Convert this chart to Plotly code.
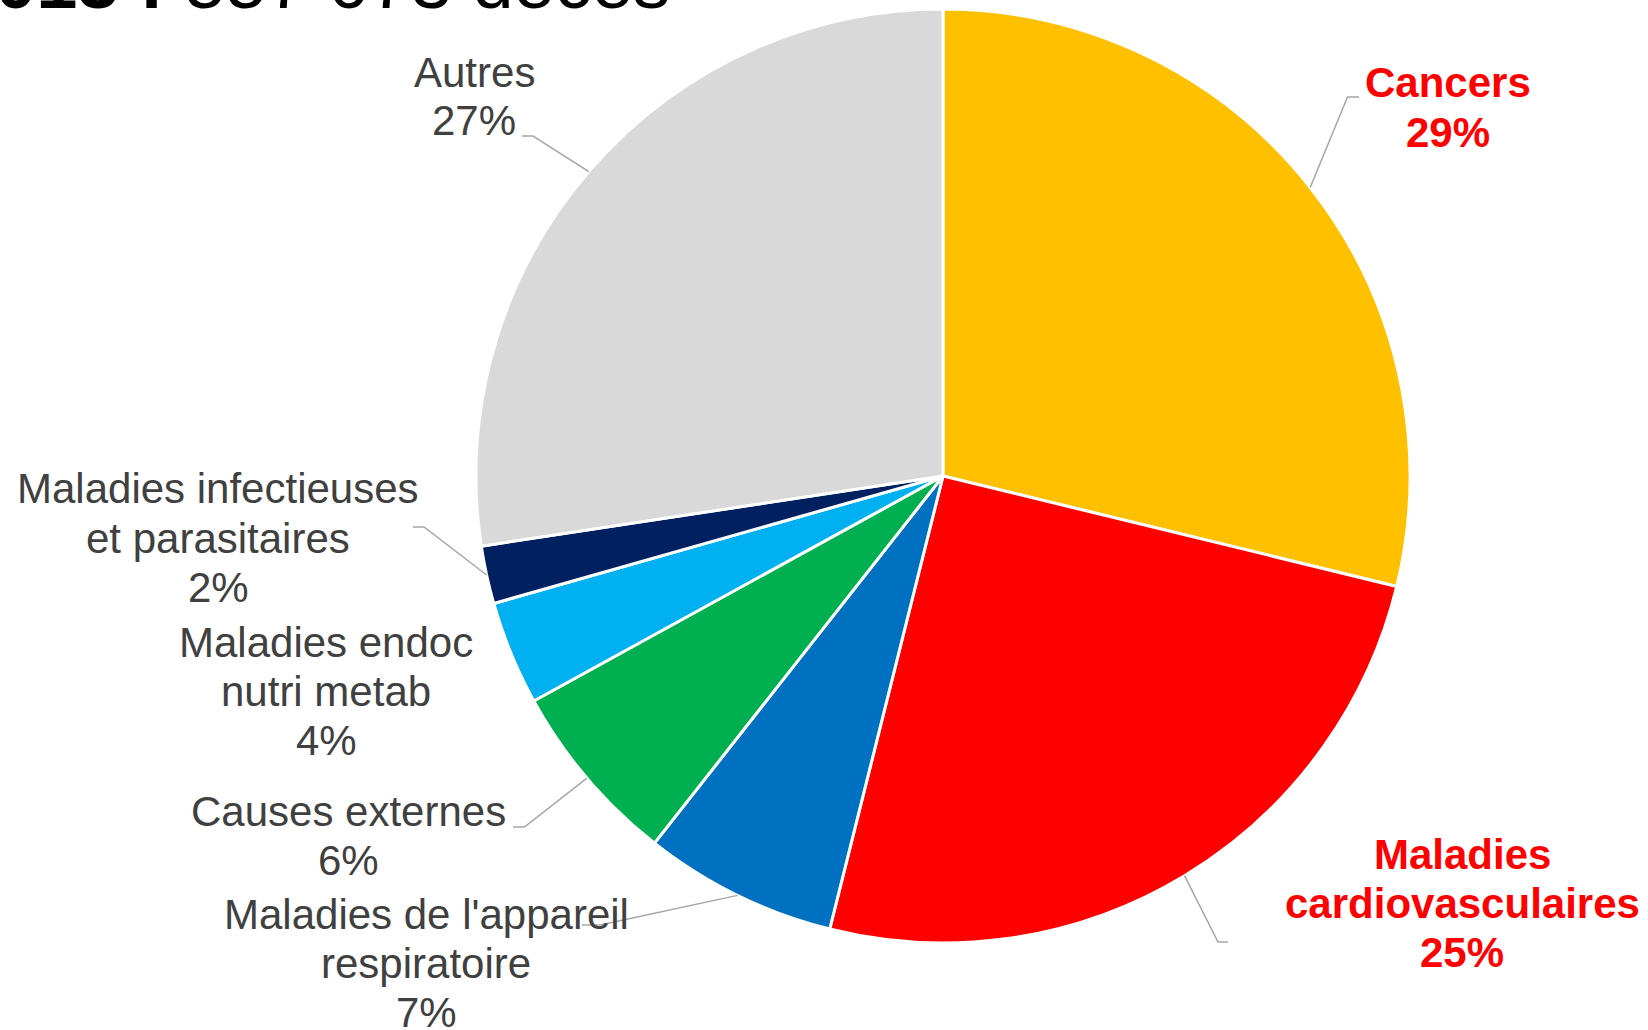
import math
import plotly.graph_objects as go

# ---------------- data ----------------
categories = [
    "Cancers",
    "Maladies cardiovasculaires",
    "Maladies de l'appareil respiratoire",
    "Causes externes",
    "Maladies endoc nutri metab",
    "Maladies infectieuses et parasitaires",
    "Autres",
]
values = [28.8, 25.1, 6.7, 6.4, 3.6, 2.0, 27.4]
label_lines = [
    ["Cancers"],
    ["Maladies", "cardiovasculaires"],
    ["Maladies de l'appareil", "respiratoire"],
    ["Causes externes"],
    ["Maladies endoc", "nutri metab"],
    ["Maladies infectieuses", "et parasitaires"],
    ["Autres"],
]
highlight = [True, True, False, False, False, False, False]
colors = ["#FFC000", "#FF0000", "#0070C0", "#00B050", "#00B0F0", "#002060", "#D9D9D9"]

title_bold = "2013 :"
title_rest = "557 073 décès"

# ---------------- layout (pixels) ----------------
W, H = 1648, 1030
CX, CY, R = 943, 476, 467
FONT = "Liberation Sans, Arial, sans-serif"
FS = 42
LINE_H = 49
label_pos = [(1448, 98), (1462, 869), (426, 929), (348, 826), (326, 657), (218, 504), (474, 87)]
leader_pts = [
    [(1347.5, 97), (1359, 97)],
    [(1218, 942), (1228, 942)],
    [(600, 925), (582, 925)],
    [(524.5, 827), (513, 827)],
    None,
    [(424, 527), (413, 527)],
    [(533, 136), (522, 136)],
]


def px(x):
    return x / W


def py(y):
    return 1 - y / H


fig = go.Figure()
fig.add_trace(go.Pie(
    labels=categories,
    values=values,
    sort=False,
    direction="clockwise",
    rotation=0,
    textinfo="none",
    hoverinfo="label+percent",
    showlegend=False,
    marker=dict(colors=colors, line=dict(color="white", width=3)),
    domain=dict(x=[px(CX - R), px(CX + R)], y=[py(CY + R), py(CY - R)]),
))

annotations = []
shapes = []
total = sum(values)
cum = 0.0
for i, v in enumerate(values):
    mid = (cum + v / 2) / total
    cum += v
    lines = label_lines[i] + [f"{round(v / total * 100)}%"]
    cx, base = label_pos[i]
    col = "#FF0000" if highlight[i] else "#404040"
    for k, t in enumerate(lines):
        txt = f"<b>{t}</b>" if highlight[i] else t
        annotations.append(dict(
            x=px(cx), y=py(base + k * LINE_H - 15), xref="paper", yref="paper",
            text=txt, showarrow=False, xanchor="center", yanchor="middle",
            font=dict(family=FONT, size=FS, color=col),
        ))
    if leader_pts[i] is not None:
        th = 2 * math.pi * mid
        sx = CX + R * math.sin(th)
        sy = CY - R * math.cos(th)
        pts = [(sx, sy)] + leader_pts[i]
        path = "M " + " L ".join(f"{px(a):.5f},{py(b):.5f}" for a, b in pts)
        shapes.append(dict(type="path", xref="paper", yref="paper", path=path,
                           line=dict(color="#A6A6A6", width=1.5)))

# partially visible title at the very top
annotations.append(dict(
    x=px(-48), y=py(26), xref="paper", yref="paper",
    text=f"<b>{title_bold}</b> {title_rest}", showarrow=False,
    xanchor="left", yanchor="bottom",
    font=dict(family=FONT, size=74, color="#000000"),
))

fig.update_layout(
    width=W, height=H, autosize=False,
    margin=dict(l=0, r=0, t=0, b=0),
    paper_bgcolor="white", plot_bgcolor="white",
    annotations=annotations, shapes=shapes,
)

fig.write_html("out.html")
